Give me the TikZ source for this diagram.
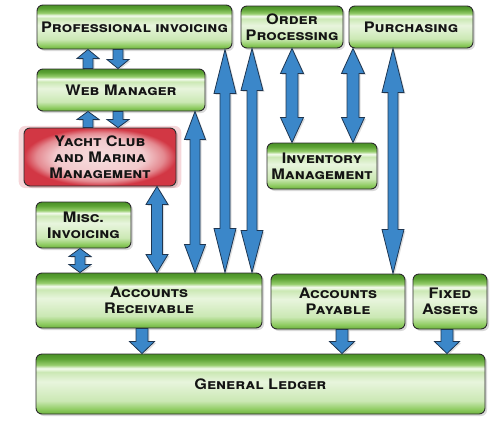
\documentclass[tikz,border=0pt]{standalone}
\usepackage{fontspec}
\setmainfont{TeX Gyre Heros}[FakeStretch=1.12]
\usetikzlibrary{shadows,calc}
\definecolor{arrblue}{HTML}{3B87C9}
\definecolor{arredge}{HTML}{1E3550}
\definecolor{boxedge}{HTML}{2B2B2B}
\definecolor{txt}{HTML}{141414}
\definecolor{gA}{HTML}{6CB03E}
\definecolor{gB}{HTML}{8FCC62}
\definecolor{gC}{HTML}{CBE8B4}
\definecolor{gD}{HTML}{E8F5DD}
\definecolor{gW}{HTML}{F4FBEE}
\definecolor{gE}{HTML}{96CD6C}
\definecolor{gF}{HTML}{5CA334}
\definecolor{gG}{HTML}{4A9027}
\definecolor{rIn}{HTML}{F7DDDF}
\definecolor{rIn2}{HTML}{F2C9CC}
\definecolor{rMid}{HTML}{E48990}
\definecolor{rOut}{HTML}{D23744}
\pgfdeclareverticalshading{glossy}{100bp}{color(0bp)=(gA); color(25bp)=(gA); color(29bp)=(gB); color(36bp)=(gC); color(52bp)=(gD); color(60bp)=(gC); color(63bp)=(gW); color(66bp)=(gE); color(71bp)=(gF); color(75bp)=(gG); color(100bp)=(gG)}
\pgfdeclareradialshading{redglow}{\pgfpoint{0bp}{0bp}}{color(0bp)=(rIn); color(15bp)=(rIn2); color(21bp)=(rMid); color(25bp)=(rOut); color(50bp)=(rOut)}
\tikzset{
  box/.style={draw=boxedge, line width=0.9pt, rounded corners=6pt, shading=glossy,
    align=center, text=txt, font=\fontsize{14.5}{16}\selectfont\bfseries\scshape,
    inner sep=0pt, drop shadow={opacity=0.3, shadow xshift=2pt, shadow yshift=-2pt}},
  redbox/.style={box, shading=redglow,
    general shadow={fill=rOut, opacity=0.2, shadow scale=1.07}},
  barrow/.style={fill=arrblue, draw=arredge, line width=0.8pt, line join=miter,
    drop shadow={opacity=0.25, shadow xshift=1.5pt, shadow yshift=-1.5pt}}
}
% double arrow: top, bottom, shaft half width, head half width, head length
\newcommand\darr[5]{\draw[barrow] let \p1=(#1), \p2=(#2) in
 (\x1,\y1) -- (\x1+#4,\y1-#5) -- (\x1+#3,\y1-#5) -- (\x1+#3,\y2+#5) -- (\x1+#4,\y2+#5)
 -- (\x1,\y2) -- (\x1-#4,\y2+#5) -- (\x1-#3,\y2+#5) -- (\x1-#3,\y1-#5) -- (\x1-#4,\y1-#5) -- cycle;}
% up arrow: tip (top), base (bottom)
\newcommand\uarr[5]{\draw[barrow] let \p1=(#1), \p2=(#2) in
 (\x1,\y1) -- (\x1+#4,\y1-#5) -- (\x1+#3,\y1-#5) -- (\x1+#3,\y2) -- (\x1-#3,\y2)
 -- (\x1-#3,\y1-#5) -- (\x1-#4,\y1-#5) -- cycle;}
% down arrow: base (top), tip (bottom)
\newcommand\dnarr[5]{\draw[barrow] let \p1=(#1), \p2=(#2) in
 (\x1-#3,\y1) -- (\x1+#3,\y1) -- (\x1+#3,\y2+#5) -- (\x1+#4,\y2+#5) -- (\x1,\y2)
 -- (\x1-#4,\y2+#5) -- (\x1-#3,\y2+#5) -- cycle;}
\begin{document}
\begin{tikzpicture}[x=1pt,y=-1pt]
\useasboundingbox (0,0) rectangle (494,431);
\node[box, minimum width=195pt, minimum height=44pt] (pi) at (134.5,27) {Professional invoicing};
\node[box, minimum width=168pt, minimum height=42pt] (wm) at (121,90) {Web Manager};
\node[box, minimum width=102pt, minimum height=42pt] (op) at (292,27) {Order\\Processing};
\node[box, minimum width=124pt, minimum height=42pt] (pu) at (411,27) {Purchasing};
\node[box, minimum width=110pt, minimum height=46pt] (im) at (322,166) {Inventory\\Management};
\node[redbox, minimum width=152pt, minimum height=58pt] (yc) at (100,157) {Yacht Club\\and Marina\\Management};
\node[box, minimum width=95pt, minimum height=46pt] (mi) at (83.5,225) {Misc.\\Invoicing};
\node[box, minimum width=226pt, minimum height=55pt] (ar) at (149,300.5) {Accounts\\Receivable};
\node[box, minimum width=134pt, minimum height=55pt] (ap) at (338,301.5) {Accounts\\Payable};
\node[box, minimum width=74pt, minimum height=55pt] (fa) at (450,301.5) {Fixed\\Assets};
\node[box, minimum width=449pt, minimum height=60pt] (gl) at (260.5,384) {General Ledger};
% short arrows
\uarr{pi.south -| 88,0}{wm.north -| 88,0}{5pt}{11pt}{9pt}
\dnarr{pi.south -| 118,0}{wm.north -| 118,0}{5pt}{11pt}{9pt}
\uarr{wm.south -| 88,0}{yc.north -| 88,0}{5pt}{11pt}{8pt}
\dnarr{wm.south -| 118,0}{yc.north -| 118,0}{5pt}{11pt}{8pt}
\darr{yc.south -| 157,0}{ar.north -| 157,0}{5.5pt}{11pt}{18pt}
\darr{mi.south -| 80,0}{ar.north -| 80,0}{5pt}{11pt}{8pt}
% long arrows
\darr{wm.south -| 195,0}{ar.north -| 195,0}{5pt}{10.5pt}{28pt}
\darr{pi.south -| 225,0}{ar.north -| 225,0}{5pt}{11pt}{44pt}
\darr{op.south -| 252,0}{ar.north -| 252,0}{5pt}{11pt}{42pt}
\darr{op.south -| 292,0}{im.north -| 292,0}{6pt}{11.5pt}{25pt}
\darr{pu.south -| 353,0}{im.north -| 353,0}{6pt}{11.5pt}{25pt}
\darr{pu.south -| 393,0}{ap.north -| 393,0}{5pt}{11pt}{44pt}
% to general ledger
\dnarr{ar.south -| 142,0}{gl.north -| 142,0}{6pt}{12.5pt}{12pt}
\dnarr{ap.south -| 342,0}{gl.north -| 342,0}{6pt}{12.5pt}{12pt}
\dnarr{fa.south -| 447,0}{gl.north -| 447,0}{6pt}{12.5pt}{12pt}
\end{tikzpicture}
\end{document}
